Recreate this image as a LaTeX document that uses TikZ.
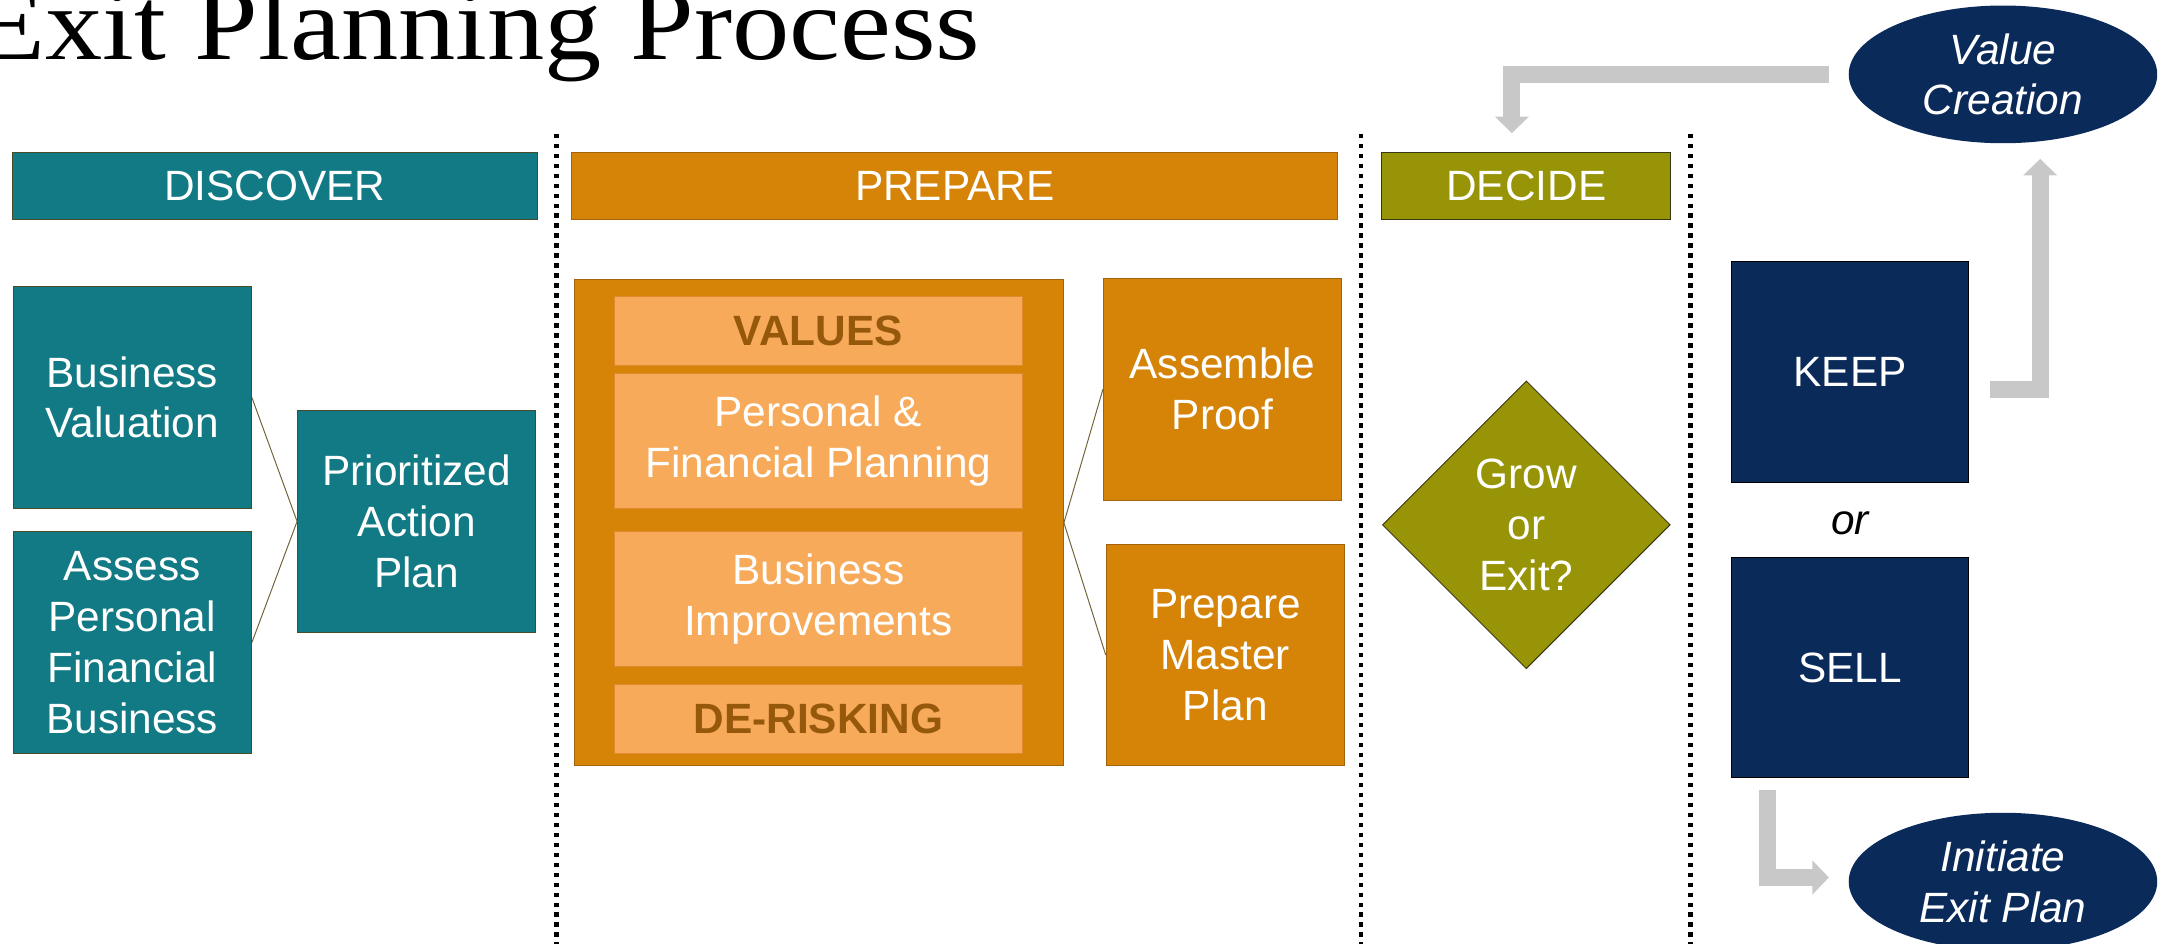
\documentclass[tikz,border=0pt]{standalone}
\usepackage{fontspec}
\setmainfont{Liberation Sans}
\newfontfamily\titlefont{Liberation Serif}
\usepackage{graphicx}
\usepackage{xcolor}
\usepackage{tikz}
\usetikzlibrary{shapes.geometric,arrows.meta,positioning,calc}

\definecolor{tealbg}{RGB}{18,122,132}
\definecolor{tealedge}{RGB}{72,76,40}
\definecolor{amber}{RGB}{213,132,8}
\definecolor{amberedge}{RGB}{165,98,12}
\definecolor{sand}{RGB}{246,170,90}
\definecolor{sandedge}{RGB}{222,138,45}
\definecolor{rust}{RGB}{150,88,10}
\definecolor{olivebg}{RGB}{152,148,8}
\definecolor{oliveedge}{RGB}{55,55,20}
\definecolor{navy}{RGB}{10,42,90}
\definecolor{arrowgray}{RGB}{200,200,200}
\definecolor{linkline}{RGB}{110,98,55}

\newcommand{\boxfont}{\fontsize{17.5}{21}\selectfont}

\begin{document}
\begin{tikzpicture}[x=0.02cm, y=-0.02cm,
    every node/.style={font=\boxfont, text=white, align=center, inner sep=0pt},
    bar/.style={draw, rectangle, minimum height=0.96cm},
    card/.style={draw, rectangle, minimum width=3.46cm, minimum height=3.22cm},
    slab/.style={draw=sandedge, fill=sand, rectangle, minimum width=5.92cm},
    oval/.style={ellipse, fill=navy, minimum width=4.48cm, minimum height=2cm, font=\boxfont\itshape},
    link/.style={draw=linkline, line width=0.4pt},
    divider/.style={line width=0.065cm, dash pattern=on 0.065cm off 0.08cm},
    grayarrow/.style={draw=arrowgray, line width=0.25cm, line join=miter,
        -{Triangle[width=0.48cm, length=0.24cm]}}]

    \clip (0,0) rectangle (1568,685);

    % title
    \node[anchor=base east, text=black, font=\titlefont\fontsize{43}{50}\selectfont] (title) at (712,43)
        {\scalebox{1.1}[1]{Exit Planning Process}};

    % phase bars
    \node[bar, draw=tealedge, fill=tealbg, minimum width=7.62cm] (discover) at (199.5,135) {DISCOVER};
    \node[bar, draw=amberedge, fill=amber, minimum width=11.12cm] (prepare) at (693,135) {PREPARE};
    \node[bar, draw=oliveedge, fill=olivebg, minimum width=4.2cm] (decide) at (1108,135) {DECIDE};

    \foreach \xpos in {404,988,1227}
        \draw[divider] (\xpos,97) -- (\xpos,690);

    % discover
    \node[card, draw=tealedge, fill=tealbg] (valuation) at (96,288.5) {Business\\Valuation};
    \node[card, draw=tealedge, fill=tealbg, below of=valuation, node distance=3.56cm] (assess) {Assess\\Personal\\Financial\\Business};
    \node[card, draw=tealedge, fill=tealbg] (action) at (302.5,378.5) {Prioritized\\Action\\Plan};

    \draw[link] (valuation.east) -- (action.west);
    \draw[link] (assess.east) -- (action.west);

    % prepare
    \node[draw=amberedge, fill=amber, rectangle, minimum width=7.1cm, minimum height=7.06cm] (prepbox) at (594.5,379.5) {};
    \node[slab, minimum height=1cm, text=rust, font=\boxfont\bfseries] (values) at (594,240) {VALUES};
    \node[slab, minimum height=1.96cm, below of=values, node distance=1.6cm] (planning) {Personal \&\\Financial Planning};
    \node[slab, minimum height=1.96cm, below of=planning, node distance=2.3cm] (improve) {Business\\Improvements};
    \node[slab, minimum height=1cm, text=rust, font=\boxfont\bfseries, below of=improve, node distance=1.74cm] (derisk) {DE-RISKING};

    \node[card, draw=amberedge, fill=amber] (proof) at (887.5,282.5) {Assemble\\Proof};
    \node[card, draw=amberedge, fill=amber] (master) at (889.5,475.5) {Prepare\\Master\\Plan};

    \draw[link] (prepbox.east) -- (proof.west);
    \draw[link] (prepbox.east) -- (master.west);

    % decide
    \node[diamond, draw=oliveedge, fill=olivebg, minimum width=4.18cm, minimum height=4.18cm] (grow) at (1108,381) {Grow\\or\\Exit?};

    \node[card, fill=navy, minimum width=3.44cm, minimum height=3.2cm] (keep) at (1343,270) {KEEP};
    \node[text=black, font=\boxfont\itshape] (or) at (1343,380) {or};
    \node[card, fill=navy, minimum width=3.44cm, minimum height=3.2cm] (sell) at (1343,484.5) {SELL};

    \node[oval] (value) at (1454,54) {Value\\Creation};
    \node[oval] (exit) at (1454,640) {Initiate\\Exit Plan};

    \draw[grayarrow] ([xshift=-0.28cm]value.west) -| ([xshift=-0.21cm, yshift=0.28cm]decide.north);
    \draw[grayarrow] ([xshift=0.3cm, yshift=-0.26cm]keep.east) -| ([xshift=0.54cm, yshift=-0.22cm]value.south);
    \draw[grayarrow] ([xshift=-1.2cm, yshift=-0.18cm]sell.south) |- ([xshift=-0.28cm, yshift=0.06cm]exit.west);
\end{tikzpicture}
\end{document}
